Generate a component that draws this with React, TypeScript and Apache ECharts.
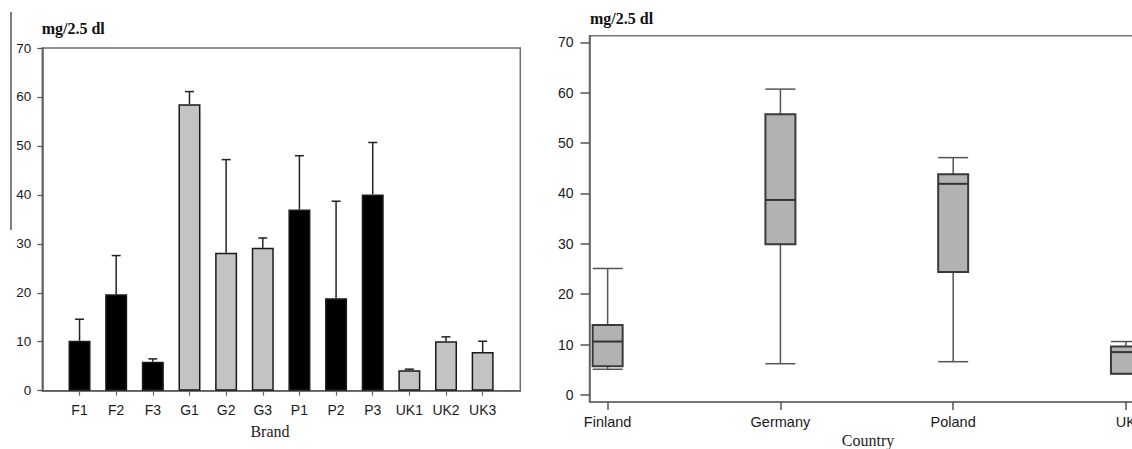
import React, { useEffect, useRef } from 'react';
import * as echarts from 'echarts';

// ---- Data ----
const brands = ['F1', 'F2', 'F3', 'G1', 'G2', 'G3', 'P1', 'P2', 'P3', 'UK1', 'UK2', 'UK3'];
const brandMeans = [10.2, 19.7, 5.9, 58.5, 28.2, 29.2, 37.0, 18.9, 40.1, 4.2, 10.1, 7.9];
const brandErrTops = [14.6, 27.6, 6.5, 61.1, 47.2, 31.2, 48.0, 38.7, 50.7, 4.4, 11.0, 10.1];
const leftYTicks = [0, 10, 20, 30, 40, 50, 60, 70];

const countries = ['Finland', 'Germany', 'Poland', 'UK'];
const boxMin = [5.1, 6.2, 6.6, 4.2];
const boxQ1 = [5.7, 29.9, 24.4, 4.2];
const boxMedian = [10.6, 38.7, 41.9, 8.5];
const boxQ3 = [13.9, 55.7, 43.8, 9.6];
const boxMax = [25.1, 60.7, 47.1, 10.6];
const rightYTicks = [0, 10, 20, 30, 40, 50, 60, 70];

const unitLabel = 'mg/2.5 dl';
const leftXName = 'Brand';
const rightXName = 'Country';

const SANS = '"Liberation Sans", Arial, sans-serif';
const SERIF = '"Liberation Serif", "Times New Roman", serif';

export default function App() {
  const ref = useRef<HTMLDivElement>(null);

  useEffect(() => {
    if (!ref.current) return;
    const chart = echarts.init(ref.current, null, { renderer: 'svg' });

    const isGray = (b: string) => b.startsWith('G') || b.startsWith('UK');

    const option: any = {
      animation: false,
      backgroundColor: '#ffffff',
      grid: [
        {
          left: 42.3, top: 48, width: 520.3 - 42.3, height: 390.7 - 48,
          outerBoundsMode: 'none', containLabel: false,
          show: true, borderColor: '#6e6e6e', borderWidth: 1.5, backgroundColor: 'transparent',
        },
        {
          left: 589.5, top: 35.7, width: 590, height: 402 - 35.7,
          outerBoundsMode: 'none', containLabel: false,
          show: true, borderColor: '#777', borderWidth: 1.5, backgroundColor: 'transparent',
        },
      ],
      xAxis: [
        {
          type: 'value', gridIndex: 0, min: -1.016, max: 12.027,
          splitLine: { show: false },
          axisLine: { show: true, onZero: false, lineStyle: { color: '#5a5a5a', width: 1.5 } },
          axisTick: { show: true, length: 5, customValues: brands.map((_, i) => i), lineStyle: { color: '#666', width: 1.2 } },
          axisLabel: {
            customValues: brands.map((_, i) => i),
            formatter: (v: number) => brands[Math.round(v)] ?? '',
            margin: 12, color: '#1a1a1a', fontSize: 14, fontFamily: SANS,
          },
        },
        {
          type: 'value', gridIndex: 1, min: -0.105, max: 3.31,
          splitLine: { show: false },
          axisLine: { show: true, onZero: false, lineStyle: { color: '#6a6a6a', width: 1.5 } },
          axisTick: { show: true, length: 8, customValues: countries.map((_, i) => i), lineStyle: { color: '#555', width: 1.5 } },
          axisLabel: {
            customValues: countries.map((_, i) => i),
            formatter: (v: number) => countries[Math.round(v)] ?? '',
            margin: 12, color: '#1a1a1a', fontSize: 14.5, fontFamily: SANS,
          },
        },
      ],
      yAxis: [
        {
          type: 'value', gridIndex: 0, min: 0, max: 70, interval: 10,
          splitLine: { show: false },
          axisLine: { show: true, onZero: false, lineStyle: { color: '#5a5a5a', width: 1.5 } },
          axisTick: { show: true, length: 5, lineStyle: { color: '#555', width: 1.2 } },
          axisLabel: {
            customValues: leftYTicks, margin: 11, color: '#1a1a1a', fontSize: 13.5, fontFamily: SANS,
          },
        },
        {
          type: 'value', gridIndex: 1, min: -1.4, max: 71.3,
          splitLine: { show: false },
          axisLine: { show: true, onZero: false, lineStyle: { color: '#5a5a5a', width: 1.5 } },
          axisTick: { show: true, length: 9, customValues: rightYTicks, lineStyle: { color: '#555', width: 1.5 } },
          axisLabel: {
            customValues: rightYTicks, margin: 16, color: '#1a1a1a', fontSize: 14, fontFamily: SANS,
          },
        },
      ],
      series: [
        {
          type: 'bar', xAxisIndex: 0, yAxisIndex: 0, barWidth: 22,
          data: brands.map((b, i) => ({
            value: [i, brandMeans[i]],
            itemStyle: {
              color: isGray(b) ? '#c3c3c3' : '#000000',
              borderColor: '#1a1a1a', borderWidth: 1.5,
            },
          })),
          z: 2,
        },
        {
          type: 'custom', xAxisIndex: 0, yAxisIndex: 0, z: 3,
          encode: { x: 0, y: [1, 2] },
          data: brands.map((_, i) => [i, brandMeans[i], brandErrTops[i]]),
          renderItem: (params: any, api: any) => {
            const x = api.value(0), m = api.value(1), t = api.value(2);
            const p0 = api.coord([x, m]);
            const p1 = api.coord([x, t]);
            const half = 4.5;
            const st = { stroke: '#222', lineWidth: 1.5 };
            return {
              type: 'group',
              children: [
                { type: 'line', shape: { x1: p0[0], y1: p0[1], x2: p1[0], y2: p1[1] }, style: st },
                { type: 'line', shape: { x1: p1[0] - half, y1: p1[1], x2: p1[0] + half, y2: p1[1] }, style: st },
              ],
            };
          },
        },
        {
          type: 'custom', xAxisIndex: 1, yAxisIndex: 1, z: 3,
          encode: { x: 0, y: [1, 2, 3, 4, 5] },
          data: countries.map((_, i) => [i, boxMin[i], boxQ1[i], boxMedian[i], boxQ3[i], boxMax[i]]),
          renderItem: (params: any, api: any) => {
            const x = api.value(0);
            const pMin = api.coord([x, api.value(1)]);
            const pQ1 = api.coord([x, api.value(2)]);
            const pMed = api.coord([x, api.value(3)]);
            const pQ3 = api.coord([x, api.value(4)]);
            const pMax = api.coord([x, api.value(5)]);
            const half = 15;
            const cx = pMin[0];
            const wst = { stroke: '#555', lineWidth: 1.5 };
            const bst = { stroke: '#3a3a3a', lineWidth: 2 };
            return {
              type: 'group',
              children: [
                { type: 'line', shape: { x1: cx, y1: pMax[1], x2: cx, y2: pQ3[1] }, style: wst },
                { type: 'line', shape: { x1: cx, y1: pQ1[1], x2: cx, y2: pMin[1] }, style: wst },
                { type: 'line', shape: { x1: cx - half, y1: pMax[1], x2: cx + half, y2: pMax[1] }, style: wst },
                { type: 'line', shape: { x1: cx - half, y1: pMin[1], x2: cx + half, y2: pMin[1] }, style: wst },
                {
                  type: 'rect',
                  shape: { x: cx - half, y: pQ3[1], width: half * 2, height: pQ1[1] - pQ3[1] },
                  style: { fill: '#b2b2b2', ...bst },
                },
                { type: 'line', shape: { x1: cx - half, y1: pMed[1], x2: cx + half, y2: pMed[1] }, style: { stroke: '#333', lineWidth: 2 } },
              ],
            };
          },
        },
      ],
      graphic: [
        {
          type: 'line', shape: { x1: 11, y1: 12, x2: 11, y2: 230 },
          style: { stroke: '#555', lineWidth: 1.5 },
        },
        {
          type: 'text',
          style: { text: unitLabel, x: 41.7, y: 28.3, font: `bold 16px ${SERIF}`, fill: '#111', align: 'left', verticalAlign: 'middle' },
        },
        {
          type: 'text',
          style: { text: unitLabel, x: 590, y: 18.3, font: `bold 16px ${SERIF}`, fill: '#111', align: 'left', verticalAlign: 'middle' },
        },
        {
          type: 'text',
          style: { text: leftXName, x: 270, y: 431.5, font: `16px ${SERIF}`, fill: '#222', align: 'center', verticalAlign: 'middle' },
        },
        {
          type: 'text',
          style: { text: rightXName, x: 868, y: 440, font: `16px ${SERIF}`, fill: '#222', align: 'center', verticalAlign: 'middle' },
        },
      ],
    };

    chart.setOption(option);
    return () => chart.dispose();
  }, []);

  return (
    <div
      ref={ref}
      style={{ position: 'absolute', left: 0, top: 0, width: 1132, height: 449, background: '#fff' }}
    />
  );
}
